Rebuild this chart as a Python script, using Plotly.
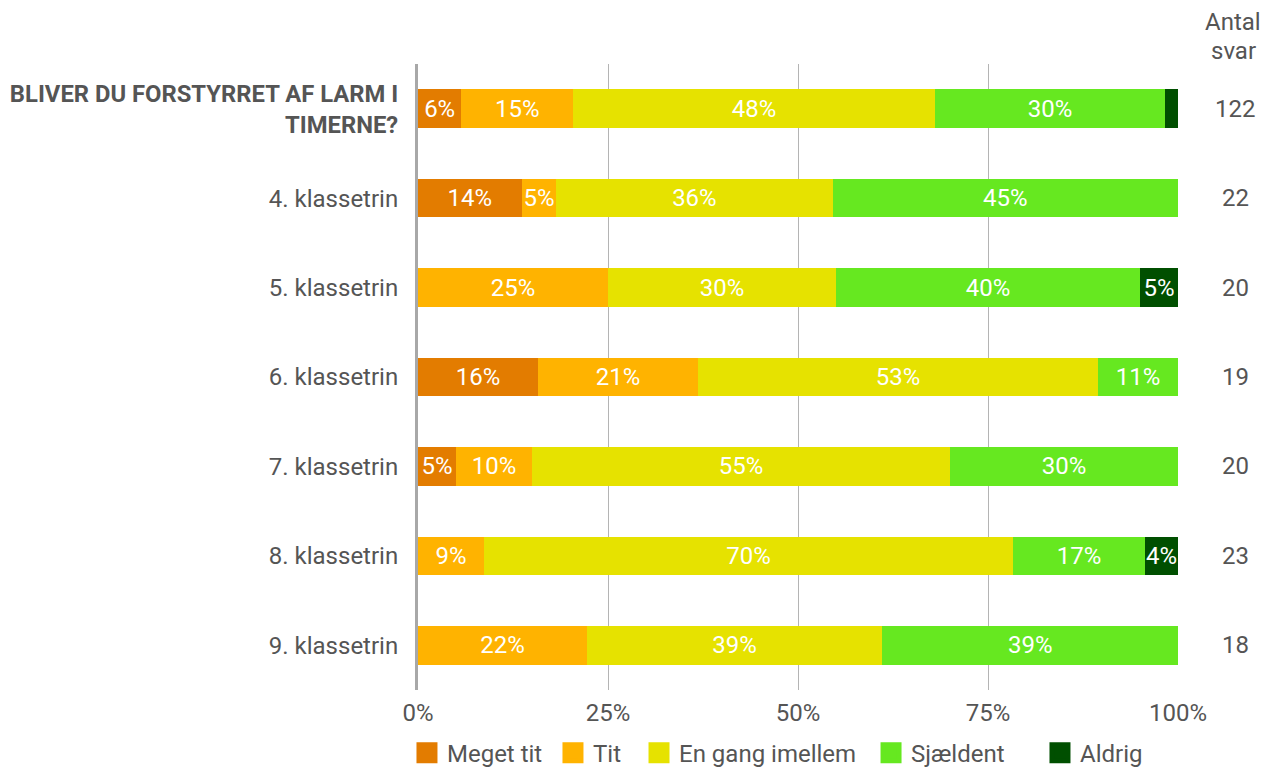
import plotly.graph_objects as go

categories = [
    "<b><span style=\"font-size:23.8px\">BLIVER DU FORSTYRRET AF LARM I<br>TIMERNE?</span></b>",
    "4. klassetrin",
    "5. klassetrin",
    "6. klassetrin",
    "7. klassetrin",
    "8. klassetrin",
    "9. klassetrin",
]
answers = [122, 22, 20, 19, 20, 23, 18]

meget_tit = [5.7, 13.64, 0.0, 15.79, 5.0, 0.0, 0.0]
tit = [14.75, 4.55, 25.0, 21.05, 10.0, 8.7, 22.22]
en_gang = [47.54, 36.36, 30.0, 52.63, 55.0, 69.57, 38.89]
sjaeldent = [30.33, 45.45, 40.0, 10.53, 30.0, 17.39, 38.89]
aldrig = [1.64, 0.0, 5.0, 0.0, 0.0, 4.35, 0.0]

series = [
    ("Meget tit", meget_tit, "#E37C00"),
    ("Tit", tit, "#FFB300"),
    ("En gang imellem", en_gang, "#E6E200"),
    ("Sjældent", sjaeldent, "#66E820"),
    ("Aldrig", aldrig, "#004F00"),
]
legend_x = [-0.0145, 0.1776, 0.2908, 0.5961, 0.8184]

FONT = "Roboto"
TXT = "#555555"
GRID = "#B4B4B4"

fig = go.Figure()
legend_layout = {}
for i, (name, vals, col) in enumerate(series):
    labels = [f"{round(v)}%" if v >= 3 else "" for v in vals]
    fig.add_trace(go.Bar(
        name=name, y=categories, x=vals, orientation="h",
        marker=dict(color=col, line=dict(width=0)),
        text=labels, textposition="inside", insidetextanchor="middle",
        textangle=0,
        textfont=dict(color="white", size=24, family=FONT),
        constraintext="none", width=0.43,
        hoverinfo="skip", showlegend=False, legendgroup=name,
    ))
    lg = "legend" if i == 0 else f"legend{i + 1}"
    fig.add_trace(go.Scatter(
        name=name, x=[None], y=[None], mode="markers",
        marker=dict(symbol="square", size=16, color=col,
                    line=dict(width=5, color=col)),
        legend=lg, legendgroup=name, showlegend=True, hoverinfo="skip",
    ))
    legend_layout[lg] = dict(
        orientation="h", x=legend_x[i], xanchor="left",
        yref="container", y=0.0205, yanchor="middle",
        font=dict(size=24, color=TXT, family=FONT),
        itemwidth=30, bgcolor="rgba(0,0,0,0)",
    )

annotations = [
    dict(xref="paper", yref="y", x=1.075, y=c, text=str(n), showarrow=False,
         xanchor="center", font=dict(size=24, color=TXT, family=FONT))
    for c, n in zip(categories, answers)
]
annotations.append(dict(xref="paper", yref="paper", x=1.0724, y=1.0671, yanchor="middle",
                        text="Antal", showarrow=False, xanchor="center",
                        font=dict(size=24, color=TXT, family=FONT)))
annotations.append(dict(xref="paper", yref="paper", x=1.0724, y=1.0208, yanchor="middle",
                        text="svar", showarrow=False, xanchor="center",
                        font=dict(size=24, color=TXT, family=FONT)))

fig.update_layout(
    barmode="stack",
    width=1263, height=769,
    margin=dict(l=418, r=85, t=64, b=79, autoexpand=False),
    plot_bgcolor="white", paper_bgcolor="white",
    font=dict(family=FONT, size=24, color=TXT),
    xaxis=dict(range=[0, 100], tickvals=[0, 25, 50, 75, 100],
               ticktext=["0%", "25%", "50%", "75%", "100%"],
               showgrid=True, gridcolor=GRID, gridwidth=1,
               zeroline=False, showline=False,
               tickfont=dict(size=24, color=TXT, family=FONT),
               ticks="", ticklabelstandoff=6),
    yaxis=dict(autorange="reversed", showgrid=False, zeroline=False,
               showline=True, linecolor="#A8A8A8", linewidth=3,
               ticks="outside", ticklen=12, tickcolor="rgba(0,0,0,0)",
               tickfont=dict(size=24, color=TXT, family=FONT)),
    showlegend=True,
    uniformtext=dict(minsize=24, mode="show"),
    annotations=annotations,
    **legend_layout,
)

fig.write_html("out.html", config={"displayModeBar": False},
               post_script="document.body.style.margin='0';document.body.style.overflow='hidden';")
